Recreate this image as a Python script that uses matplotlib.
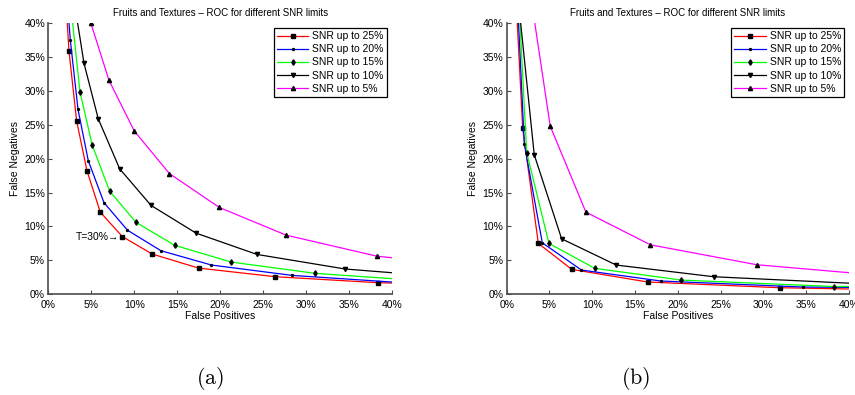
import numpy as np
import matplotlib
matplotlib.use("Agg")
from matplotlib import pyplot as plt

plt.rcParams['font.family'] = ['Liberation Sans', 'DejaVu Sans']
plt.rcParams['mathtext.fontset'] = 'cm'

# series labels / styles
labels = ["SNR up to 25%", "SNR up to 20%", "SNR up to 15%", "SNR up to 10%", "SNR up to 5%"]
colors = ["#ff0000", "#0000ff", "#00ff00", "#000000", "#ff00ff"]
markers = ["s", ".", "d", "v", "^"]
ticks = [0, 5, 10, 15, 20, 25, 30, 35, 40]

# (a) false positives / false negatives in %, first & last points are where the curve leaves the axes
fp_a_25 = [1.95, 2.39, 3.28, 4.49, 6.04, 8.6, 12.1, 17.5, 26.4, 38.4, 40.0]
fn_a_25 = [45.0, 35.9, 25.6, 18.2, 12.1, 8.5, 5.9, 3.83, 2.56, 1.67, 1.62]
fp_a_20 = [2.1, 2.54, 3.44, 4.64, 6.47, 9.2, 13.1, 19.0, 28.4, 40.0]
fn_a_20 = [45.0, 37.6, 27.3, 19.7, 13.5, 9.44, 6.4, 4.28, 2.75, 1.77]
fp_a_15 = [2.4, 3.67, 5.1, 7.13, 10.2, 14.7, 21.3, 31.1, 40.0]
fn_a_15 = [45.0, 29.9, 22.0, 15.2, 10.6, 7.2, 4.72, 3.05, 2.27]
fp_a_10 = [2.78, 4.14, 5.8, 8.3, 11.95, 17.2, 24.3, 34.6, 40.0]
fn_a_10 = [45.0, 34.1, 25.9, 18.5, 13.1, 9.0, 5.85, 3.69, 3.15]
fp_a_5 = [4.95, 7.05, 10.0, 14.1, 19.9, 27.7, 38.25, 40.0]
fn_a_5 = [40.0, 31.6, 24.1, 17.8, 12.8, 8.7, 5.6, 5.36]

# (b)
fp_b_25 = [1.04, 1.87, 3.7, 7.6, 16.5, 31.9, 40.0]
fn_b_25 = [45.0, 24.5, 7.48, 3.64, 1.77, 0.93, 0.74]
fp_b_20 = [1.2, 2.06, 4.16, 8.74, 18.0, 34.6, 40.0]
fn_b_20 = [45.0, 22.2, 7.57, 3.54, 1.92, 1.03, 0.98]
fp_b_15 = [1.35, 2.34, 4.94, 10.3, 20.4, 38.3, 40.0]
fn_b_15 = [45.0, 20.9, 7.48, 3.79, 2.06, 1.1, 1.12]
fp_b_10 = [1.23, 3.22, 6.42, 12.8, 24.2, 40.0]
fn_b_10 = [45.0, 20.6, 8.16, 4.28, 2.55, 1.6]
fp_b_5 = [2.7, 5.09, 9.26, 16.8, 29.2, 40.0]
fn_b_5 = [45.0, 24.8, 12.1, 7.27, 4.33, 3.15]

panel_a = [(fp_a_25, fn_a_25, 1), (fp_a_20, fn_a_20, 1), (fp_a_15, fn_a_15, 1), (fp_a_10, fn_a_10, 1), (fp_a_5, fn_a_5, 0)]
panel_b = [(fp_b_25, fn_b_25, 1), (fp_b_20, fn_b_20, 1), (fp_b_15, fn_b_15, 1), (fp_b_10, fn_b_10, 1), (fp_b_5, fn_b_5, 1)]

msizes = [2.4, 2.8, 2.8, 3.0, 3.0]

fig = plt.figure(figsize=(8.55, 3.95), dpi=100)


def draw(ax, series):
    for (x, y, start), lab, c, m, ms in zip(series, labels, colors, markers, msizes):
        ax.plot(x, y, color=c, lw=0.9, marker=m, ms=ms, mfc="k", mec="k",
                markevery=slice(start, len(x) - 1), label=lab)
    ax.set_xlim(0, 40); ax.set_ylim(0, 40)
    ax.set_xticks(ticks); ax.set_yticks(ticks)
    ax.set_xticklabels([f"{t}%" for t in ticks]); ax.set_yticklabels([f"{t}%" for t in ticks])
    for s in ["top", "right"]: ax.spines[s].set_visible(False)
    for s in ["left", "bottom"]: ax.spines[s].set_color("0.3"); ax.spines[s].set_linewidth(1.2)
    ax.tick_params(direction="in", length=3, width=0.8, color="0.3", labelsize=7.5)
    ax.tick_params(axis="x", pad=4); ax.tick_params(axis="y", pad=2.5)
    ax.set_xlabel("False Positives", fontsize=7.5, labelpad=1)
    ax.set_ylabel("False Negatives", fontsize=7.5, labelpad=3)
    ax.set_title("Fruits and Textures \u2013 ROC for different SNR limits", fontsize=7, pad=5)
    leg = ax.legend(loc="upper right", fontsize=7.5, handlelength=3.0, handletextpad=0.4,
                    labelspacing=0.3, borderpad=0.3, borderaxespad=0.45, fancybox=False, framealpha=1)
    leg.get_frame().set_edgecolor("k"); leg.get_frame().set_linewidth(0.9)


ax1 = fig.add_axes([0.0567, 0.2557, 0.4014, 0.685])
draw(ax1, panel_a)
ax1.text(8.3, 8.5, "T=30%\u2192", ha="right", va="center", fontsize=7.5,
         family=["Liberation Sans", "DejaVu Sans"])

ax2 = fig.add_axes([0.5926, 0.2557, 0.4004, 0.685])
draw(ax2, panel_b)

fig.text(210 / 855, 1 - 379 / 395, r"$(\mathrm{a})$", ha="center", va="center", fontsize=16)
fig.text(636 / 855, 1 - 379 / 395, r"$(\mathrm{b})$", ha="center", va="center", fontsize=16)

plt.savefig("out.png", dpi=100)
